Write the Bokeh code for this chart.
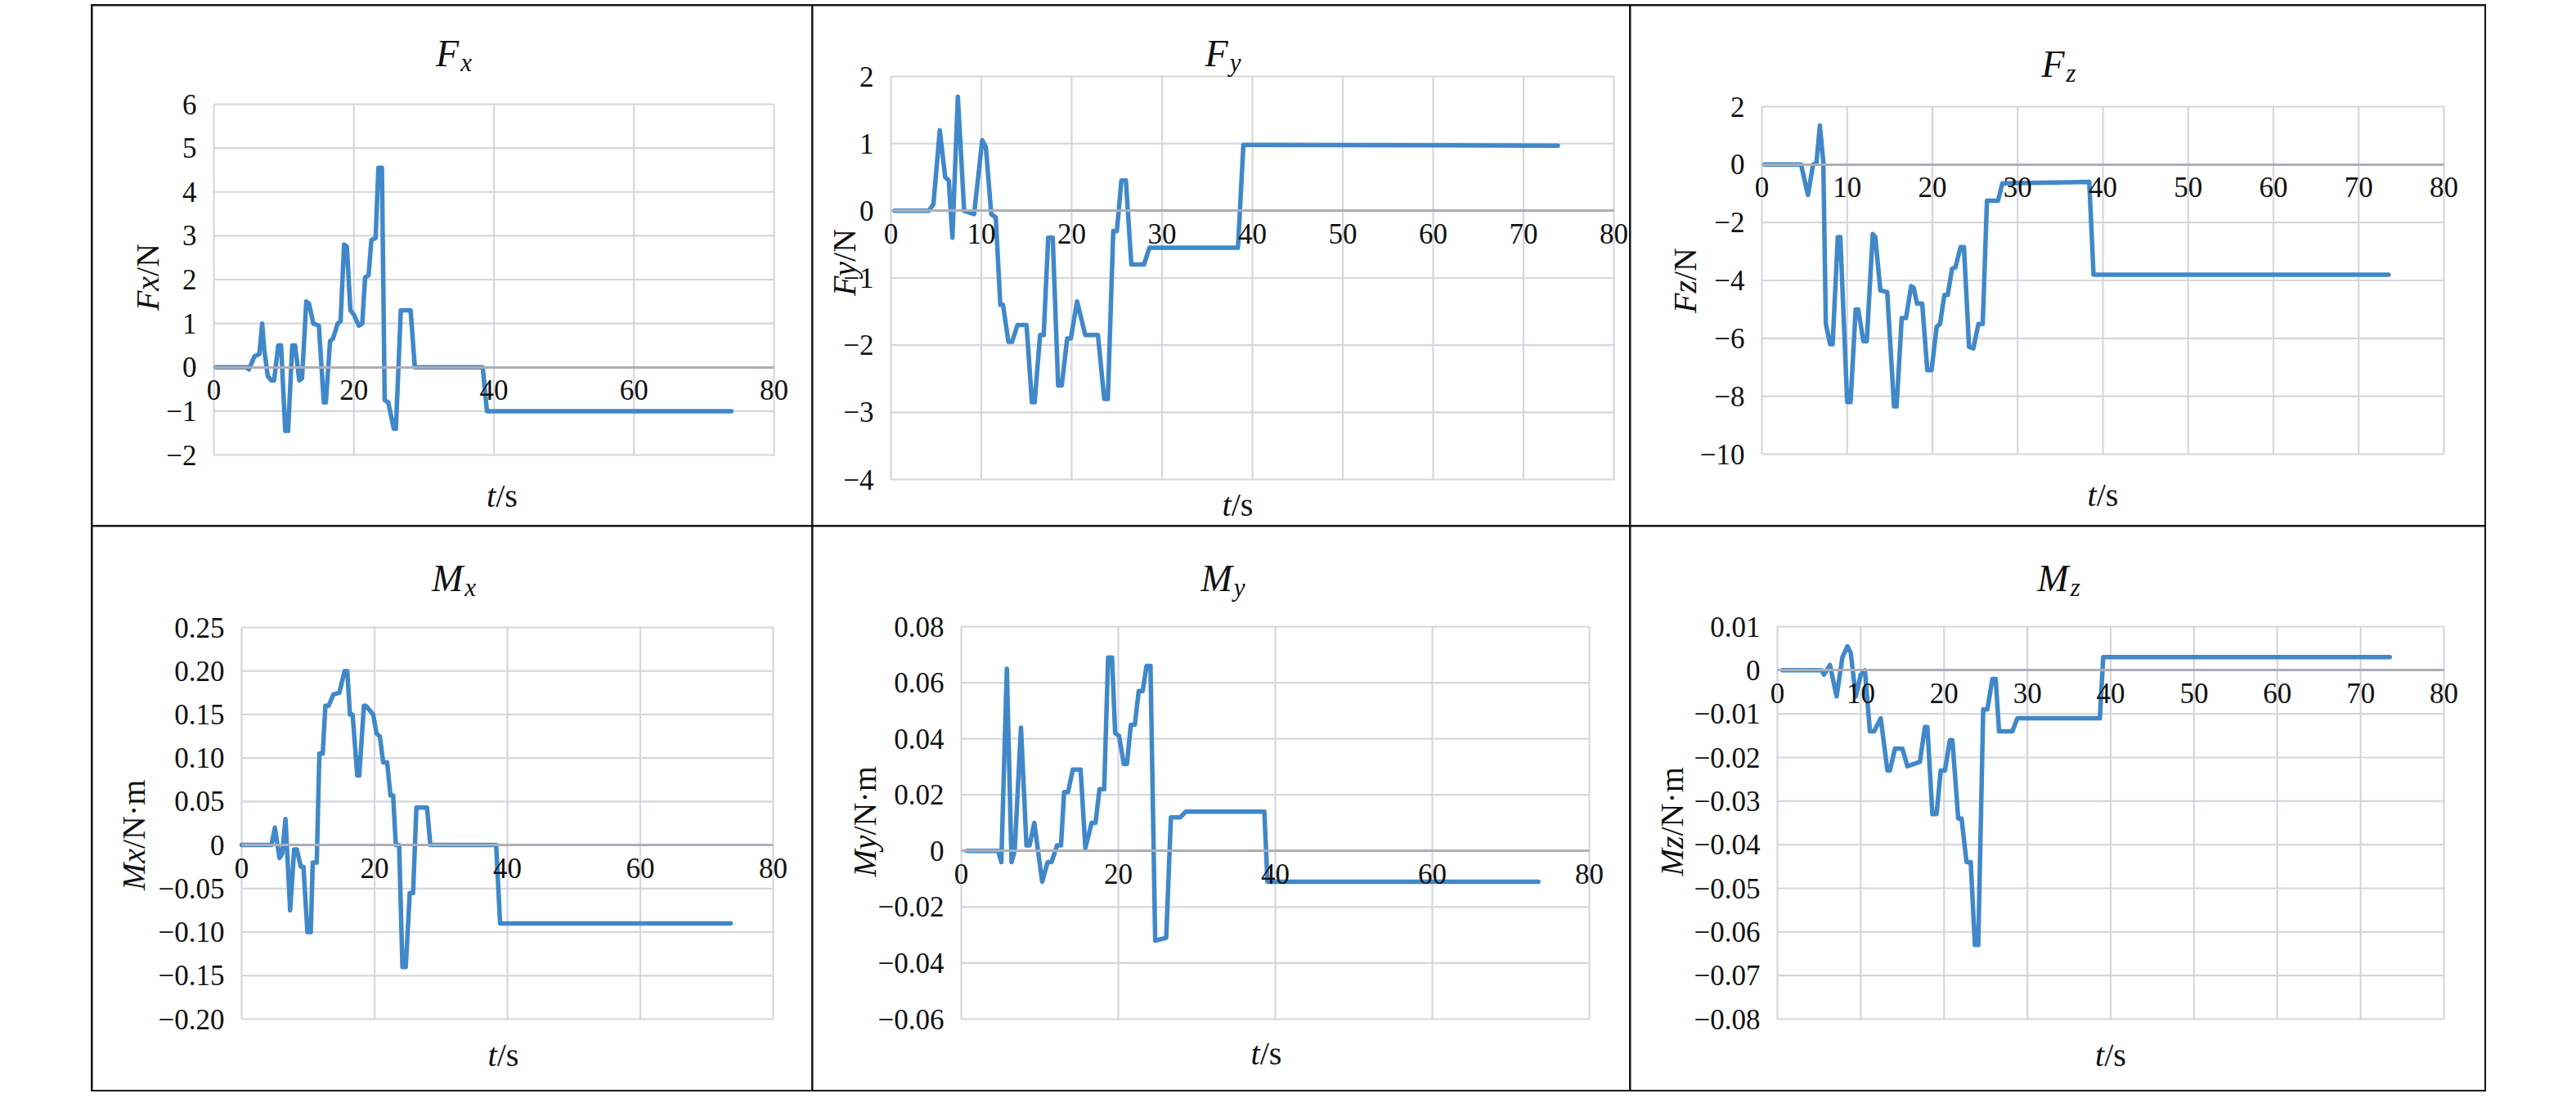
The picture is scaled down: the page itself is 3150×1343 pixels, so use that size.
import math
from bokeh.plotting import figure
from bokeh.layouts import row, column
from bokeh.models import Range1d, FixedTicker, Label, Spacer, LinearAxis
from bokeh.embed import file_html
from bokeh.resources import INLINE

# ---------------- data ----------------
fx_t = [0.3, 4.7, 5.0, 5.8, 6.5, 6.9, 7.2, 7.7, 8.2, 8.6, 9.2, 9.6, 10.2, 10.6, 11.2, 11.6, 12.2, 12.6, 13.2, 13.6,
        14.2, 15.0, 15.7, 16.0, 16.6, 17.0, 17.7, 18.1, 18.6, 19.0, 19.5, 20.0, 20.7, 21.2, 21.6, 22.1, 22.5, 23.1,
        23.5, 24.0, 24.4, 24.9, 25.7, 26.0, 26.7, 28.1, 28.7, 38.4, 39.0, 73.9]
fx = [0, 0, -0.05, 0.25, 0.3, 1.0, 0.4, -0.2, -0.3, -0.3, 0.5, 0.5, -1.45, -1.45, 0.5, 0.5, -0.3, -0.25, 1.5, 1.45,
      1.0, 0.95, -0.8, -0.8, 0.6, 0.65, 1.0, 1.05, 2.8, 2.75, 1.3, 1.2, 0.95, 1.0, 2.05, 2.1, 2.9, 2.95, 4.55, 4.55,
      -0.75, -0.8, -1.4, -1.4, 1.3, 1.3, 0.0, 0.0, -1.0, -1.0]

fy_t = [0.4, 4.2, 4.7, 5.4, 6.0, 6.4, 6.8, 7.4, 8.1, 9.2, 10.1, 10.5, 11.1, 11.6, 12.1, 12.4, 13.0, 13.4, 14.0, 15.0,
        15.6, 15.9, 16.5, 16.9, 17.4, 17.9, 18.5, 18.9, 19.5, 19.9, 20.6, 21.5, 22.9, 23.6, 24.0, 24.6, 25.0, 25.5,
        26.0, 26.6, 28.0, 28.6, 38.4, 39.0, 73.8]
fy = [0, 0, 0.1, 1.2, 0.5, 0.45, -0.4, 1.7, 0.0, -0.05, 1.05, 0.95, -0.05, -0.1, -1.4, -1.4, -1.95, -1.95, -1.7, -1.7,
      -2.85, -2.85, -1.85, -1.85, -0.4, -0.4, -2.6, -2.6, -1.9, -1.9, -1.35, -1.85, -1.85, -2.8, -2.8, -0.3, -0.3,
      0.45, 0.45, -0.8, -0.8, -0.55, -0.55, 0.98, 0.97]

fz_t = [0.3, 4.6, 5.4, 6.0, 6.4, 6.8, 7.2, 7.5, 8.0, 8.3, 8.9, 9.2, 10.0, 10.4, 11.0, 11.3, 11.9, 12.3, 13.0, 13.3,
        13.9, 14.7, 15.5, 15.8, 16.4, 16.9, 17.5, 17.8, 18.2, 18.8, 19.4, 19.9, 20.5, 20.9, 21.4, 21.8, 22.3, 22.7,
        23.3, 23.7, 24.3, 24.8, 25.4, 25.9, 26.4, 27.7, 28.2, 38.4, 38.9, 73.5]
fz = [0, 0, -1.05, 0, 0.05, 1.35, 0.1, -5.5, -6.2, -6.2, -2.5, -2.5, -8.2, -8.2, -5.0, -5.0, -6.1, -6.1, -2.4, -2.5,
      -4.35, -4.4, -8.35, -8.35, -5.3, -5.3, -4.2, -4.25, -4.8, -4.8, -7.1, -7.1, -5.6, -5.5, -4.5, -4.5, -3.6, -3.55,
      -2.85, -2.85, -6.3, -6.35, -5.5, -5.5, -1.25, -1.25, -0.65, -0.6, -3.8, -3.8]

mx_t = [0.0, 4.5, 5.0, 5.7, 6.1, 6.6, 7.3, 7.9, 8.3, 8.9, 9.3, 9.9, 10.4, 10.7, 11.3, 11.7, 12.2, 12.6, 13.1, 13.8,
        14.7, 15.5, 15.9, 16.3, 16.7, 17.4, 17.7, 18.4, 18.7, 19.8, 20.3, 20.8, 21.3, 21.9, 22.4, 22.8, 23.2, 23.7,
        24.2, 24.7, 25.3, 25.8, 26.3, 27.9, 28.4, 38.3, 38.9, 73.6]
mx = [0, 0, 0.02, -0.015, -0.01, 0.03, -0.075, -0.005, -0.005, -0.025, -0.025, -0.1, -0.1, -0.02, -0.02, 0.105,
      0.105, 0.16, 0.16, 0.173, 0.175, 0.2, 0.2, 0.15, 0.15, 0.08, 0.08, 0.16, 0.16, 0.15, 0.128, 0.125, 0.095, 0.095,
      0.057, 0.057, 0.0, 0.0, -0.14, -0.14, -0.055, -0.055, 0.043, 0.043, 0.0, 0.0, -0.09, -0.09]

my_t = [0.7, 4.7, 5.1, 5.8, 6.4, 6.8, 7.6, 8.3, 8.7, 9.3, 10.3, 11.0, 11.5, 12.2, 12.7, 13.1, 13.6, 14.2, 15.2, 15.8,
        16.6, 17.1, 17.6, 18.2, 18.7, 19.2, 19.6, 20.1, 20.7, 21.1, 21.6, 22.1, 22.6, 23.1, 23.6, 24.1, 24.7, 26.1,
        26.7, 27.9, 28.6, 38.6, 39.0, 73.5]
my = [0, 0, -0.004, 0.065, -0.004, 0.0, 0.044, 0.002, 0.002, 0.01, -0.011, -0.004, -0.004, 0.002, 0.002, 0.021,
      0.021, 0.029, 0.029, 0.001, 0.01, 0.01, 0.022, 0.022, 0.069, 0.069, 0.042, 0.041, 0.031, 0.031, 0.045, 0.045,
      0.057, 0.057, 0.066, 0.066, -0.032, -0.031, 0.012, 0.012, 0.014, 0.014, -0.011, -0.011]

mz_t = [0.6, 5.3, 5.6, 6.3, 7.1, 7.8, 8.4, 8.8, 9.4, 10.0, 10.5, 11.1, 11.6, 12.4, 13.2, 13.5, 14.1, 15.0, 15.6, 17.1,
        17.7, 18.0, 18.6, 19.1, 19.6, 20.1, 20.7, 21.0, 21.7, 22.1, 22.7, 23.2, 23.7, 24.1, 24.7, 25.2, 25.8, 26.2,
        26.6, 28.2, 28.8, 38.7, 39.1, 73.5]
mz = [0, 0, -0.001, 0.0012, -0.006, 0.003, 0.0055, 0.004, -0.006, -0.001, 0.0, -0.014, -0.014, -0.011, -0.023,
      -0.023, -0.018, -0.018, -0.022, -0.021, -0.013, -0.013, -0.033, -0.033, -0.023, -0.023, -0.016, -0.016, -0.034,
      -0.034, -0.044, -0.044, -0.063, -0.063, -0.009, -0.009, -0.002, -0.002, -0.014, -0.014, -0.011, -0.011, 0.003,
      0.003]

x_ticks_20 = [0, 20, 40, 60, 80]
x_ticks_10 = [0, 10, 20, 30, 40, 50, 60, 70, 80]

fx_yticks = [-2, -1, 0, 1, 2, 3, 4, 5, 6]
fx_ylabels = ["−2", "−1", "0", "1", "2", "3", "4", "5", "6"]
fy_yticks = [-4, -3, -2, -1, 0, 1, 2]
fy_ylabels = ["−4", "−3", "−2", "−1", "0", "1", "2"]
fz_yticks = [-10, -8, -6, -4, -2, 0, 2]
fz_ylabels = ["−10", "−8", "−6", "−4", "−2", "0", "2"]
mx_yticks = [-0.2, -0.15, -0.1, -0.05, 0, 0.05, 0.1, 0.15, 0.2, 0.25]
mx_ylabels = ["−0.20", "−0.15", "−0.10", "−0.05", "0", "0.05", "0.10", "0.15", "0.20", "0.25"]
my_yticks = [-0.06, -0.04, -0.02, 0, 0.02, 0.04, 0.06, 0.08]
my_ylabels = ["−0.06", "−0.04", "−0.02", "0", "0.02", "0.04", "0.06", "0.08"]
mz_yticks = [-0.08, -0.07, -0.06, -0.05, -0.04, -0.03, -0.02, -0.01, 0, 0.01]
mz_ylabels = ["−0.08", "−0.07", "−0.06", "−0.05", "−0.04", "−0.03", "−0.02", "−0.01", "0", "0.01"]

# ---------------- style ----------------
SERIF = "Liberation Serif"
LINE = "#4088C9"
GRID = "#D6D6DE"
AXIS0 = "#ADADB7"
TXT = "#111111"
TICK_SIZE = 35
AXT_SIZE = 40
TITLE_SIZE = 46
SUB_SIZE = 31

IT_W = {"F": 0.611, "M": 0.833, "x": 0.444, "y": 0.444, "z": 0.389, "t": 0.278}
RG_W = {"/": 0.278, "N": 0.722, "·": 0.25, "m": 0.778, "s": 0.389}


def text_w(s, size, italic):
    tbl = IT_W if italic else RG_W
    return sum(tbl.get(c, 0.5) for c in s) * size


# cell size and plot-area margins (left, right, top, bottom) in pixels
panels = [
    dict(sym="F", sub="x", yl1="Fx", yl2="/N", t=fx_t, v=fx, yt=fx_yticks, ylab=fx_ylabels, xt=x_ticks_20,
         w=881, h=637, mb=(148, 48, 120, 88), tgap=62, sgap=50, sdx=10, lgap=81, ldy=3),
    dict(sym="F", sub="y", yl1="Fy", yl2="/N", t=fy_t, v=fy, yt=fy_yticks, ylab=fy_ylabels, xt=x_ticks_10,
         w=1000, h=637, mb=(95, 21, 86, 58), tgap=28, sgap=31, sdx=-18, lgap=57, ldy=19),
    dict(sym="F", sub="z", yl1="Fz", yl2="/N", t=fz_t, v=fz, yt=fz_yticks, ylab=fz_ylabels, xt=x_ticks_10,
         w=1044, h=637, mb=(160, 50, 123, 89), tgap=52, sgap=50, sdx=0, lgap=94, ldy=0),
    dict(sym="M", sub="x", yl1="Mx", yl2="/N·m", t=mx_t, v=mx, yt=mx_yticks, ylab=mx_ylabels, xt=x_ticks_20,
         w=881, h=689, mb=(182, 49, 123, 87), tgap=60, sgap=44, sdx=-5, lgap=132, ldy=-16),
    dict(sym="M", sub="y", yl1="My", yl2="/N·m", t=my_t, v=my, yt=my_yticks, ylab=my_ylabels, xt=x_ticks_20,
         w=1000, h=689, mb=(181, 51, 122, 87), tgap=59, sgap=42, sdx=-11, lgap=118, ldy=0),
    dict(sym="M", sub="z", yl1="Mz", yl2="/N·m", t=mz_t, v=mz, yt=mz_yticks, ylab=mz_ylabels, xt=x_ticks_10,
         w=1044, h=689, mb=(179, 50, 122, 87), tgap=59, sgap=44, sdx=0, lgap=129, ldy=0),
]


def lab(p, text, x, y, xo, yo, size, italic, align, angle=0.0):
    p.add_layout(Label(x=x, y=y, x_offset=xo, y_offset=yo, text=text, angle=angle,
                       text_font=SERIF, text_font_size=f"{size}px",
                       text_font_style="italic" if italic else "normal",
                       text_align=align, text_baseline="alphabetic", text_color=TXT))


def make_panel(s):
    ymin, ymax = s["yt"][0], s["yt"][-1]
    xmin, xmax = s["xt"][0], s["xt"][-1]
    ml, mr, mt, mb = s["mb"]
    fw = s["w"] - ml - mr
    fh = s["h"] - mt - mb
    kx = (xmax - xmin) / fw
    ky = (ymax - ymin) / fh
    # the whole cell is the frame; the plot area sits inside it at the margins
    p = figure(width=s["w"], height=s["h"], output_backend="svg", toolbar_location=None, title=None,
               x_axis_type=None, y_axis_type=None,
               x_range=Range1d(xmin - ml * kx, xmax + mr * kx),
               y_range=Range1d(ymin - mb * ky, ymax + mt * ky),
               min_border_left=0, min_border_right=0, min_border_top=0, min_border_bottom=0,
               background_fill_color="white", border_fill_color="white",
               styles={"outline": "3px solid #161616", "outline-offset": "-1.5px"})
    p.outline_line_color = None
    if "frame_align" in p.properties():
        p.frame_align = False

    # grid of the plot area
    nx, ny = len(s["xt"]), len(s["yt"])
    p.segment(x0=s["xt"], y0=[ymin] * nx, x1=s["xt"], y1=[ymax] * nx, line_color=GRID, line_width=2.2)
    p.segment(x0=[xmin] * ny, y0=s["yt"], x1=[xmax] * ny, y1=s["yt"], line_color=GRID, line_width=2.2)

    # x axis crossing at zero
    xa = LinearAxis(ticker=FixedTicker(ticks=s["xt"]), fixed_location=0, bounds=(xmin, xmax))
    xa.axis_line_color = AXIS0
    xa.axis_line_width = 3
    xa.major_tick_line_color = None
    xa.minor_tick_line_color = None
    xa.major_label_standoff = 10
    xa.major_label_text_font = SERIF
    xa.major_label_text_font_size = f"{TICK_SIZE}px"
    xa.major_label_text_color = TXT
    p.add_layout(xa, "below")

    # y axis at the left edge of the plot area
    ya = LinearAxis(ticker=FixedTicker(ticks=s["yt"]), fixed_location=xmin, bounds=(ymin, ymax))
    ya.major_label_overrides = dict(zip(s["yt"], s["ylab"]))
    ya.axis_line_color = None
    ya.major_tick_line_color = None
    ya.minor_tick_line_color = None
    ya.major_label_standoff = 15
    ya.major_label_text_font = SERIF
    ya.major_label_text_font_size = f"{TICK_SIZE}px"
    ya.major_label_text_color = TXT
    p.add_layout(ya, "left")

    p.line(s["t"], s["v"], line_width=5.5, line_color=LINE, line_join="round", line_cap="round")

    xc = (xmin + xmax) / 2
    ymid = (ymin + ymax) / 2

    # title: italic symbol with italic subscript, centred on the cell
    tc = (mr - ml) / 2
    w1 = text_w(s["sym"], TITLE_SIZE, True)
    w2 = text_w(s["sub"], SUB_SIZE, True)
    anc = tc + (w1 - w2) / 2
    lab(p, s["sym"], xc, ymax, anc, s["tgap"], TITLE_SIZE, True, "right")
    lab(p, s["sub"], xc, ymax, anc + 2, s["tgap"] - 11, SUB_SIZE, True, "left")

    # x axis title  t/s
    w1 = text_w("t", AXT_SIZE, True)
    w2 = text_w("/s", AXT_SIZE, False)
    anc = s["sdx"] + (w1 - w2) / 2
    lab(p, "t", xc, ymin, anc, -s["sgap"], AXT_SIZE, True, "right")
    lab(p, "/s", xc, ymin, anc, -s["sgap"], AXT_SIZE, False, "left")

    # y axis title (rotated)
    w1 = text_w(s["yl1"], AXT_SIZE, True)
    w2 = text_w(s["yl2"], AXT_SIZE, False)
    anc = s["ldy"] + (w1 - w2) / 2
    lab(p, s["yl1"], xmin, ymid, -s["lgap"], anc, AXT_SIZE, True, "right", math.pi / 2)
    lab(p, s["yl2"], xmin, ymid, -s["lgap"], anc, AXT_SIZE, False, "left", math.pi / 2)
    return p


figs = [make_panel(s) for s in panels]
grid = column(row(*figs[:3]), row(*figs[3:]))
layout = column(Spacer(width=10, height=7), row(Spacer(width=113, height=10), grid))

open("out.html", "w").write(file_html(layout, INLINE, title="Force and moment"))
